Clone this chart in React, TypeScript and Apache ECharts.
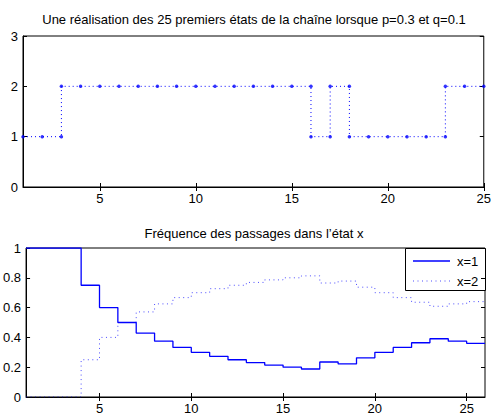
import React, { useEffect, useRef } from "react";
import * as echarts from "echarts";

const titleTop = "Une réalisation des 25 premiers états de la chaîne lorsque p=0.3 et q=0.1";
const titleBottom = "Fréquence des passages dans l’état x";

// states of the chain for n = 1..25
const states = [1, 1, 2, 2, 2, 2, 2, 2, 2, 2, 2, 2, 2, 2, 2, 1, 2, 1, 1, 1, 1, 1, 2, 2, 2];

// running frequencies for n = 1..25
const freq1 = [1, 1, 1, 0.75, 0.6, 0.5, 0.429, 0.375, 0.333, 0.3, 0.273, 0.25, 0.231, 0.214, 0.2, 0.188, 0.235, 0.222, 0.263, 0.3, 0.333, 0.364, 0.391, 0.375, 0.36];
const freq2 = [0, 0, 0, 0.25, 0.4, 0.5, 0.571, 0.625, 0.667, 0.7, 0.727, 0.75, 0.769, 0.786, 0.8, 0.813, 0.765, 0.778, 0.737, 0.7, 0.667, 0.636, 0.609, 0.625, 0.64];

const xTicks = [5, 10, 15, 20, 25];
const legendNames = ["x=1", "x=2"];

const FONT = "'Liberation Sans', Arial, Helvetica, sans-serif";
const BLUE = "#0000ff";
const DOT1 = [1, 3];
const DOT2 = [1, 3.5];

export default function App() {
  const ref = useRef<HTMLDivElement>(null);

  useEffect(() => {
    if (!ref.current) return;
    const chart = echarts.init(ref.current, null, { renderer: "svg" });

    const topLine = states.map((s, i) => [i + 1, s]);
    const corners: number[][] = [];
    states.forEach((s, i) => {
      if (i > 0 && states[i - 1] !== s) corners.push([i + 1, states[i - 1]]);
      corners.push([i + 1, s]);
    });
    const stair = (arr: number[]) => {
      const d = arr.map((v, i) => [i + 1, v]);
      d.push([arr.length + 1, arr[arr.length - 1]]);
      return d;
    };

    const G1 = { left: 23, top: 36, width: 462, height: 151 };
    const G2 = { left: 23, top: 248, width: 462, height: 152 };

    const labelStyle = { color: "#000", fontSize: 13, fontFamily: FONT };

    const mainX = (gridIndex: number, max: number) => ({
      type: "value",
      gridIndex,
      min: 1,
      max,
      position: "bottom",
      axisLine: { show: true, onZero: false, lineStyle: { color: "#000", width: 1 } },
      axisTick: { show: true, inside: true, length: 4, customValues: xTicks, lineStyle: { color: "#000" } },
      axisLabel: { ...labelStyle, margin: 5, customValues: xTicks },
      splitLine: { show: false },
    });
    const sideX = (gridIndex: number, max: number) => ({
      type: "value",
      gridIndex,
      min: 1,
      max,
      position: "top",
      axisLine: { show: false },
      axisTick: { show: true, inside: true, length: 4, customValues: xTicks, lineStyle: { color: "#000" } },
      axisLabel: { show: false },
      splitLine: { show: false },
    });
    const mainY = (gridIndex: number, max: number, interval: number) => ({
      type: "value",
      gridIndex,
      min: 0,
      max,
      interval,
      position: "left",
      axisLine: { show: true, onZero: false, lineStyle: { color: "#000", width: 1 } },
      axisTick: { show: true, inside: true, length: 4, lineStyle: { color: "#000" } },
      axisLabel: { ...labelStyle, margin: 5 },
      splitLine: { show: false },
    });
    const sideY = (gridIndex: number, max: number, interval: number) => ({
      type: "value",
      gridIndex,
      min: 0,
      max,
      interval,
      position: "right",
      axisLine: { show: false },
      axisTick: { show: true, inside: true, length: 4, lineStyle: { color: "#000" } },
      axisLabel: { show: false },
      splitLine: { show: false },
    });

    const LX = 405, LY = 248, LW = 80, LH = 42;
    const legendGraphic = {
      type: "group",
      z: 100,
      children: [
        {
          type: "rect",
          shape: { x: LX + 0.5, y: LY + 0.5, width: LW, height: LH },
          style: { fill: "#fff", stroke: "#000", lineWidth: 1 },
        },
        {
          type: "line",
          shape: { x1: LX + 8, y1: LY + 13, x2: LX + 45, y2: LY + 13 },
          style: { stroke: BLUE, lineWidth: 1.3 },
        },
        {
          type: "line",
          shape: { x1: LX + 8, y1: LY + 33, x2: LX + 45, y2: LY + 33 },
          style: { stroke: BLUE, lineWidth: 1, lineDash: DOT2, opacity: 0.7 },
        },
        {
          type: "text",
          x: LX + 52,
          y: LY + 13,
          style: { text: legendNames[0], fill: "#000", font: `13px ${FONT}`, textVerticalAlign: "middle" },
        },
        {
          type: "text",
          x: LX + 52,
          y: LY + 33,
          style: { text: legendNames[1], fill: "#000", font: `13px ${FONT}`, textVerticalAlign: "middle" },
        },
      ],
    };

    chart.setOption({
      animation: false,
      backgroundColor: "#fff",
      grid: [
        { ...G1, show: true, borderColor: "#000", borderWidth: 1, backgroundColor: "transparent" },
        { ...G2, show: true, borderColor: "#000", borderWidth: 1, backgroundColor: "transparent" },
      ],
      xAxis: [mainX(0, 25), sideX(0, 25), mainX(1, 26), sideX(1, 26)],
      yAxis: [mainY(0, 3, 1), sideY(0, 3, 1), mainY(1, 1, 0.2), sideY(1, 1, 0.2)],
      graphic: [
        {
          type: "text",
          x: 254,
          y: 19,
          style: { text: titleTop, fill: "#000", font: `13px ${FONT}`, textAlign: "center", textVerticalAlign: "middle" },
        },
        {
          type: "text",
          x: 254,
          y: 233,
          style: { text: titleBottom, fill: "#000", font: `13px ${FONT}`, textAlign: "center", textVerticalAlign: "middle" },
        },
        legendGraphic,
      ],
      series: [
        {
          type: "line",
          xAxisIndex: 0,
          yAxisIndex: 0,
          step: "end",
          data: topLine,
          symbol: "none",
          lineStyle: { color: BLUE, width: 1, type: DOT1 },
          silent: true,
        },
        {
          type: "scatter",
          xAxisIndex: 0,
          yAxisIndex: 0,
          data: corners,
          symbol: "circle",
          symbolSize: 3.5,
          itemStyle: { color: BLUE },
          silent: true,
        },
        {
          name: legendNames[0],
          type: "line",
          xAxisIndex: 2,
          yAxisIndex: 2,
          step: "end",
          data: stair(freq1),
          symbol: "none",
          color: BLUE,
          lineStyle: { color: BLUE, width: 1.3 },
          silent: true,
        },
        {
          name: legendNames[1],
          type: "line",
          xAxisIndex: 2,
          yAxisIndex: 2,
          step: "end",
          data: stair(freq2),
          symbol: "none",
          color: BLUE,
          lineStyle: { color: BLUE, width: 1, type: DOT2, opacity: 0.7 },
          silent: true,
        },
      ],
    });

    return () => chart.dispose();
  }, []);

  return (
    <div
      ref={ref}
      style={{ position: "absolute", left: 0, top: 0, width: 494, height: 415 }}
    />
  );
}
